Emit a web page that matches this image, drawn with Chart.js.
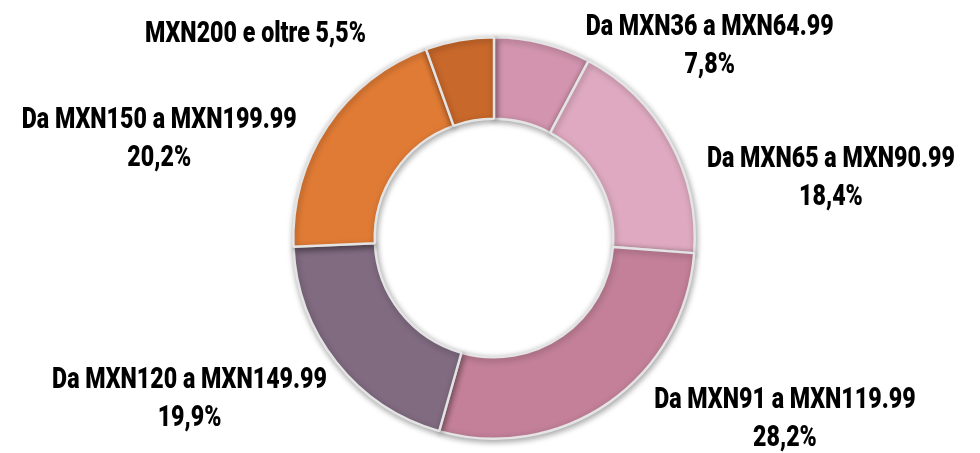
<!DOCTYPE html>
<html>
<head>
<meta charset="utf-8">
<script src="https://cdn.jsdelivr.net/npm/chart.js@4.4.0/dist/chart.umd.min.js"></script>
<style>
  html, body { margin: 0; padding: 0; background: #fff; }
  #wrap { width: 980px; height: 453px; }
</style>
</head>
<body>
<div id="wrap"><canvas id="myChart"></canvas></div>
<script>
// fasce di prezzo, in senso orario partendo dall'alto
var categories = ['Da MXN36 a MXN64.99', 'Da MXN65 a MXN90.99', 'Da MXN91 a MXN119.99',
    'Da MXN120 a MXN149.99', 'Da MXN150 a MXN199.99', 'MXN200 e oltre'];
var shares = [7.8, 18.4, 28.2, 19.9, 20.2, 5.5];
var colors = ['#D294AE', '#DFAAC1', '#C38098', '#806B81', '#E07B35', '#C9682B'];

// spostamento etichette rispetto al bordo esterno della fetta (come in Excel)
var labelNudge = [[167, 4], [161, 37], [176, 17], [-147, 37], [-168, 14], [-204, -5]];
var oneLine = [false, false, false, false, false, true];

var FONT = 'Roboto, "DejaVu Sans", sans-serif';
var SQUEEZE = 0.8;   // il font originale è un condensed

var shadowPlugin = {
    id: 'shadow',
    beforeDatasetsDraw: function (chart) {
        var c = chart.ctx;
        c.save();
        c.shadowColor = 'rgba(0,0,0,0.35)';
        c.shadowBlur = 6;
        c.shadowOffsetX = 1;
        c.shadowOffsetY = 2;
    },
    afterDatasetsDraw: function (chart) {
        chart.ctx.restore();
    }
};

function squeezedText(c, txt, x, y) {
    c.save();
    c.translate(x, y);
    c.scale(SQUEEZE, 1);
    c.fillText(txt, 0, 0);
    c.restore();
}

var labelPlugin = {
    id: 'sliceLabels',
    afterDatasetsDraw: function (chart) {
        var c = chart.ctx;
        var meta = chart.getDatasetMeta(0);
        c.save();
        c.fillStyle = '#000';
        c.font = '900 29px ' + FONT;
        c.textAlign = 'center';
        c.textBaseline = 'middle';
        meta.data.forEach(function (arc, i) {
            var mid = (arc.startAngle + arc.endAngle) / 2;
            var x = arc.x + Math.cos(mid) * arc.outerRadius + labelNudge[i][0];
            var y = arc.y + Math.sin(mid) * arc.outerRadius + labelNudge[i][1];
            var pct = shares[i].toFixed(1).replace('.', ',') + '%';
            if (oneLine[i]) {
                squeezedText(c, categories[i] + ' ' + pct, x, y);
            } else {
                squeezedText(c, categories[i], x, y - 19);
                squeezedText(c, pct, x, y + 19);
            }
        });
        c.restore();
    }
};

var ctx = document.getElementById('myChart');
var myChart = new Chart(ctx, {
    type: 'doughnut',
    data: {
        labels: categories,
        datasets: [{
            data: shares,
            backgroundColor: colors,
            borderColor: '#e4e4e4',
            borderWidth: 2.5
        }]
    },
    options: {
        responsive: true,
        maintainAspectRatio: false,
        animation: false,
        cutout: '59.4%',
        layout: { padding: { top: 36, bottom: 13, left: 8, right: 0 } },
        plugins: {
            legend: { display: false },
            tooltip: { enabled: false }
        }
    },
    plugins: [shadowPlugin, labelPlugin]
});
</script>
</body>
</html>
